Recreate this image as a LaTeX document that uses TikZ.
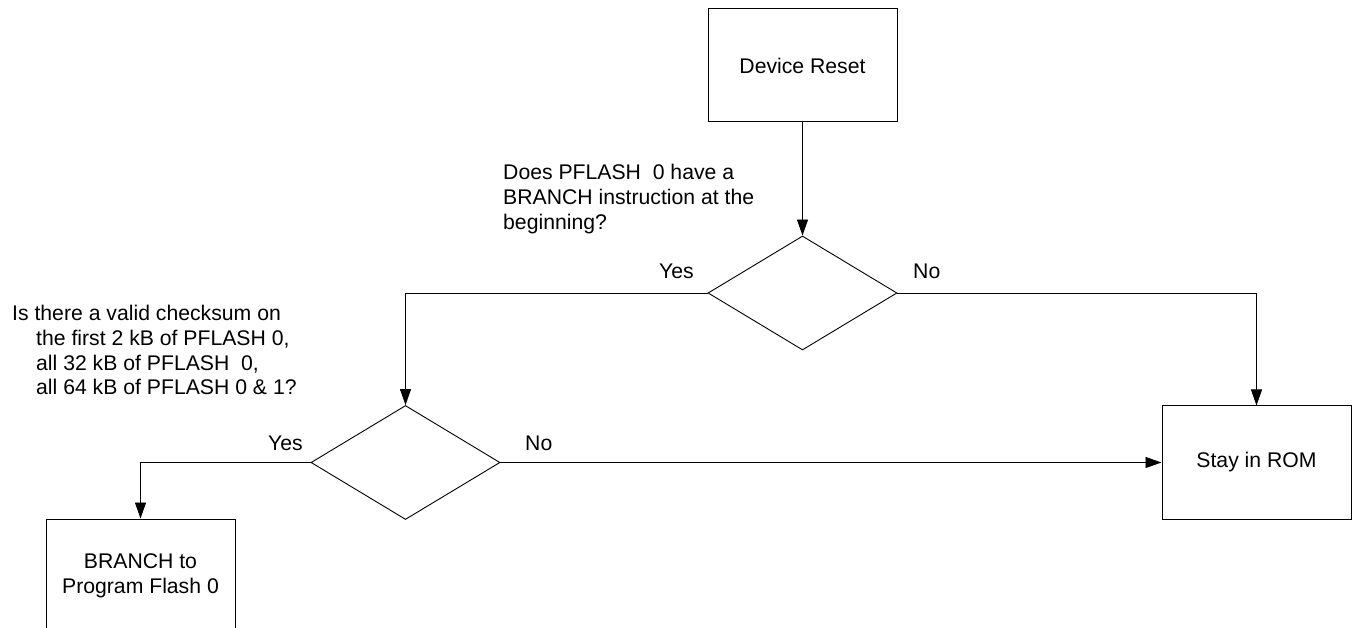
\documentclass[tikz,border=0pt]{standalone}
\usepackage{fontspec}
\setmainfont{Liberation Sans}
\usetikzlibrary{shapes.geometric,arrows.meta}
\begin{document}
\begin{tikzpicture}[x=1pt,y=-1pt,
  every node/.style={font=\fontsize{21.2}{24.7}\selectfont},
  procbox/.style={draw,line width=1pt,rectangle,minimum width=189pt,minimum height=113pt,inner sep=0pt,align=center},
  decision/.style={draw,line width=0.9pt,diamond,minimum width=189pt,minimum height=114pt,inner sep=0pt},
  flow/.style={line width=0.9pt,-{Triangle[length=16pt,width=11pt]}},
  lbl/.style={anchor=base west,inner sep=0pt,align=left}]
\useasboundingbox (0,0) rectangle (1353,628);
\fill[white] (0,0) rectangle (1353,628);
\clip (0,0) rectangle (1353,628);

\node[procbox] (reset) at (802.5,65.5) {Device Reset};
\node[decision] (d1) at (802.5,293) {};
\node[decision] (d2) at (405.5,462.5) {};
\node[procbox] (rom) at (1256.5,462.5) {Stay in ROM};
\node[procbox] (branch) at (140.5,575.5) {BRANCH to\\Program Flash 0};

% base anchor of a multi-line node is the baseline of its last line
\node[lbl] (q1) at (503,229.4) {Does PFLASH\ \ 0 have a\\BRANCH instruction at the\\beginning?};
\node[lbl] (q2) at (12,395) {Is there a valid checksum on\\\hspace*{24pt}the first 2 kB of PFLASH 0,\\\hspace*{24pt}all 32 kB of PFLASH\ \ 0,\\\hspace*{24pt}all 64 kB of PFLASH 0 \& 1?};

\node[lbl] (y1) at (659,279) {Yes};
\node[lbl] (n1) at (913,279) {No};
\node[lbl] (y2) at (268,450) {Yes};
\node[lbl] (n2) at (525,450) {No};

\draw[flow] (reset.south) -- (d1.north);
\draw[flow] (d1.west) -| (d2.north);
\draw[flow] (d1.east) -| (rom.north);
\draw[flow] (d2.east) -- (rom.west);
\draw[flow] (d2.west) -| (branch.north);
\end{tikzpicture}
\end{document}
